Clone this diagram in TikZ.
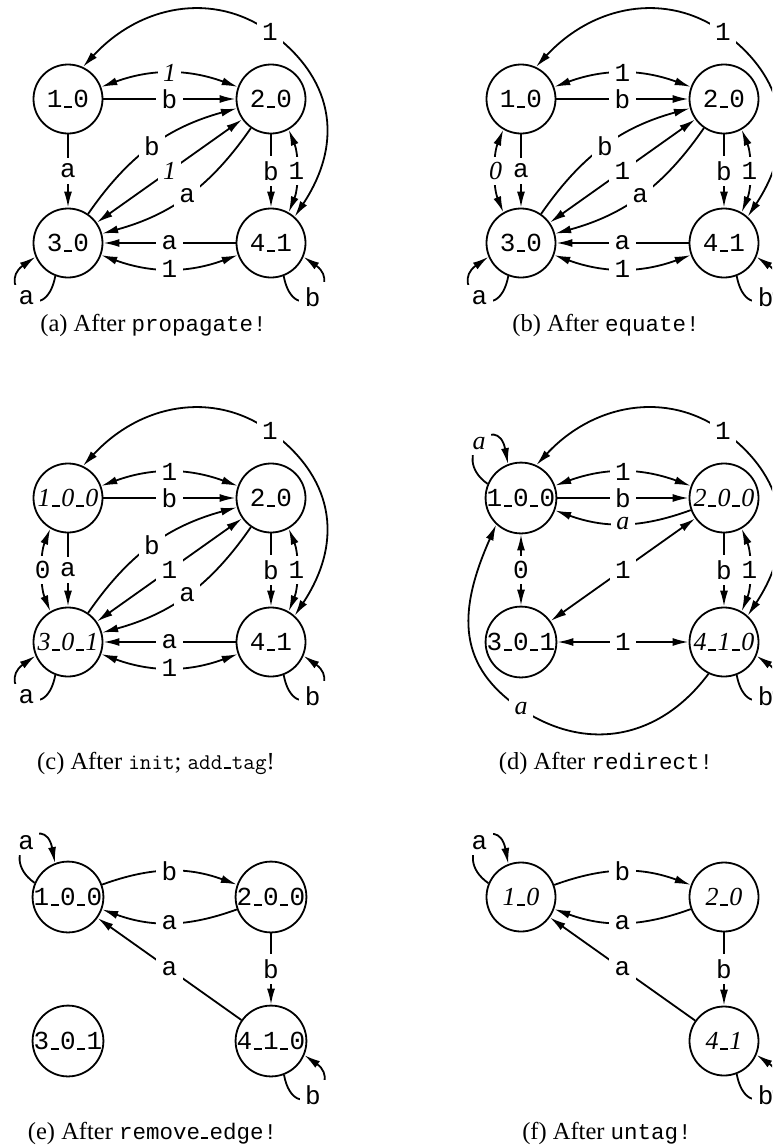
\documentclass[tikz,border=0pt]{standalone}
\usepackage{fontspec}
\setmainfont{Liberation Serif}
\newfontfamily\cour{Liberation Mono}
\newfontfamily\lmtt{Latin Modern Mono}
\usetikzlibrary{arrows.meta}
\newcommand\us{\kern.06em\rule{.3em}{.9pt}\kern.06em}
\newcommand\cf{\cour\fontsize{13}{15}\selectfont}
\newcommand\itf{\fontsize{13}{15}\selectfont\itshape}
\newcommand\capcour{\cour\fontsize{11.25}{13}\selectfont}
\newcommand\captt{\lmtt\fontsize{11.25}{13}\selectfont}
\tikzset{
  st/.style={circle,draw,line width=.9pt,minimum size=34.5pt,inner sep=0pt,font=\cf},
  lbl/.style={fill=white,inner sep=2.7pt,font=\cf},
  tip/.tip={Latex[length=8pt,width=4pt]},
  ed/.style={line width=.9pt,-tip},
  eb/.style={line width=.9pt,tip-tip},
  captxt/.style={font=\fontsize{12.25}{14}\selectfont,inner sep=0pt}
}
\begin{document}
\begin{tikzpicture}[x=0.5pt,y=-0.5pt]
\useasboundingbox (0,0) rectangle (772,1146);
\clip (0,0) rectangle (772,1146);

% ---------- (a)
\begin{scope}[shift={(68,99)}]
\node[st] (a1) at (0,0) {1\us 0};
\node[st] (a2) at (203,0) {2\us 0};
\node[st] (a3) at (0,144) {3\us 0};
\node[st] (a4) at (203,144) {4\us 1};
\draw[eb] (a1.65) .. controls (72,-94) and (145,-108) .. (202,-67) node[lbl]{1}
   .. controls (263,-23) and (278,40) .. (a4.48);
\draw[eb] (a1) to[bend left=20] node[lbl,font=\itf]{1} (a2);
\draw[ed] (a1) -- node[lbl]{b} (a2);
\draw[ed] (a1) -- node[lbl]{a} (a3);
\draw[ed] (a3) to[bend left=20] node[lbl]{b} (a2);
\draw[eb] (a3) -- node[lbl,font=\itf]{1} (a2);
\draw[ed] (a2) to[bend left=20] node[lbl]{a} (a3);
\draw[ed] (a4) -- node[lbl]{a} (a3);
\draw[eb] (a3) to[bend right=20] node[lbl]{1} (a4);
\draw[ed] (a2) -- node[lbl]{b} (a4);
\draw[eb] (a2.-60) .. controls (231,56) and (231,88) .. node[lbl]{1} (a4.60);
\draw[ed] (a3.-111) .. controls (-23,231) and (-73,186) .. node[lbl]{a} (a3.-157);
\draw[ed] (a4.-69) .. controls (226,231) and (276,186) .. node[lbl]{b} (a4.-23);
\end{scope}
\node[captxt] (capa) at (153.5,325) {(a) After {\capcour propagate!}};

% ---------- (b)
\begin{scope}[shift={(521,99)}]
\node[st] (b1) at (0,0) {1\us 0};
\node[st] (b2) at (203,0) {2\us 0};
\node[st] (b3) at (0,144) {3\us 0};
\node[st] (b4) at (203,144) {4\us 1};
\draw[eb] (b1.65) .. controls (72,-94) and (145,-108) .. (202,-67) node[lbl]{1}
   .. controls (263,-23) and (278,40) .. (b4.48);
\draw[eb] (b1) to[bend left=20] node[lbl]{1} (b2);
\draw[ed] (b1) -- node[lbl]{b} (b2);
\draw[ed] (b1) -- node[lbl]{a} (b3);
\draw[eb] (b1.-120) .. controls (-28,56) and (-28,88) .. node[lbl,font=\itf]{0} (b3.120);
\draw[ed] (b3) to[bend left=20] node[lbl]{b} (b2);
\draw[eb] (b3) -- node[lbl]{1} (b2);
\draw[ed] (b2) to[bend left=20] node[lbl]{a} (b3);
\draw[ed] (b4) -- node[lbl]{a} (b3);
\draw[eb] (b3) to[bend right=20] node[lbl]{1} (b4);
\draw[ed] (b2) -- node[lbl]{b} (b4);
\draw[eb] (b2.-60) .. controls (231,56) and (231,88) .. node[lbl]{1} (b4.60);
\draw[ed] (b3.-111) .. controls (-23,231) and (-73,186) .. node[lbl]{a} (b3.-157);
\draw[ed] (b4.-69) .. controls (226,231) and (276,186) .. node[lbl]{b} (b4.-23);
\end{scope}
\node[captxt] (capb) at (606,325) {(b) After {\capcour equate!}};

% ---------- (c)
\begin{scope}[shift={(68,498)}]
\node[st,font=\itf] (c1) at (0,0) {1\us 0\us 0};
\node[st] (c2) at (203,0) {2\us 0};
\node[st,font=\itf] (c3) at (0,144) {3\us 0\us 1};
\node[st] (c4) at (203,144) {4\us 1};
\draw[eb] (c1.65) .. controls (72,-94) and (145,-108) .. (202,-67) node[lbl]{1}
   .. controls (263,-23) and (278,40) .. (c4.48);
\draw[eb] (c1) to[bend left=20] node[lbl]{1} (c2);
\draw[ed] (c1) -- node[lbl]{b} (c2);
\draw[ed] (c1) -- node[lbl]{a} (c3);
\draw[eb] (c1.-120) .. controls (-28,56) and (-28,88) .. node[lbl]{0} (c3.120);
\draw[ed] (c3) to[bend left=20] node[lbl]{b} (c2);
\draw[eb] (c3) -- node[lbl]{1} (c2);
\draw[ed] (c2) to[bend left=20] node[lbl]{a} (c3);
\draw[ed] (c4) -- node[lbl]{a} (c3);
\draw[eb] (c3) to[bend right=20] node[lbl]{1} (c4);
\draw[ed] (c2) -- node[lbl]{b} (c4);
\draw[eb] (c2.-60) .. controls (231,56) and (231,88) .. node[lbl]{1} (c4.60);
\draw[ed] (c3.-111) .. controls (-23,231) and (-73,186) .. node[lbl]{a} (c3.-157);
\draw[ed] (c4.-69) .. controls (226,231) and (276,186) .. node[lbl]{b} (c4.-23);
\end{scope}
\node[captxt] (capc) at (156,763) {(c) After {\captt init}; {\captt add\us tag}!};

% ---------- (d)
\begin{scope}[shift={(521,498)}]
\node[st] (d1) at (0,0) {1\us 0\us 0};
\node[st,font=\itf] (d2) at (203,0) {2\us 0\us 0};
\node[st] (d3) at (0,144) {3\us 0\us 1};
\node[st,font=\itf] (d4) at (203,144) {4\us 1\us 0};
\draw[eb] (d1.65) .. controls (72,-94) and (145,-108) .. (202,-67) node[lbl]{1}
   .. controls (263,-23) and (278,40) .. (d4.48);
\draw[eb] (d1) to[bend left=20] node[lbl]{1} (d2);
\draw[ed] (d1) -- node[lbl]{b} (d2);
\draw[ed] (d2) to[bend left=20] node[lbl,font=\itf]{a} (d1);
\draw[ed] (d1.157) .. controls (-73,-42) and (-23,-87) .. node[lbl,font=\itf]{a} (d1.111);
\draw[eb] (d1) -- node[lbl]{0} (d3);
\draw[eb] (d3) -- node[lbl]{1} (d2);
\draw[ed] (d2) -- node[lbl]{b} (d4);
\draw[eb] (d2.-60) .. controls (231,56) and (231,88) .. node[lbl]{1} (d4.60);
\draw[eb] (d3) -- node[lbl]{1} (d4);
\draw[ed] (d4.-116) .. controls (139,241) and (66,255) .. (0,211) node[lbl,font=\itf]{a}
   .. controls (-62,169) and (-65,117) .. (d1.-133);
\draw[ed] (d4.-69) .. controls (226,231) and (276,186) .. node[lbl]{b} (d4.-23);
\end{scope}
\node[captxt] (capd) at (606,763) {(d) After {\capcour redirect!}};

% ---------- (e)
\begin{scope}[shift={(68,897)}]
\node[st] (e1) at (0,0) {1\us 0\us 0};
\node[st] (e2) at (203,0) {2\us 0\us 0};
\node[st] (e3) at (0,144) {3\us 0\us 1};
\node[st] (e4) at (203,144) {4\us 1\us 0};
\draw[ed] (e1.157) .. controls (-73,-42) and (-23,-87) .. node[lbl]{a} (e1.111);
\draw[ed] (e1) to[bend left=20] node[lbl]{b} (e2);
\draw[ed] (e2) to[bend left=20] node[lbl]{a} (e1);
\draw[ed] (e4) -- node[lbl]{a} (e1);
\draw[ed] (e2) -- node[lbl]{b} (e4);
\draw[ed] (e4.-69) .. controls (226,231) and (276,186) .. node[lbl]{b} (e4.-23);
\end{scope}
\node[captxt] (cape) at (152.5,1133) {(e) After {\capcour remove\us edge!}};

% ---------- (f)
\begin{scope}[shift={(521,897)}]
\node[st,font=\itf] (f1) at (0,0) {1\us 0};
\node[st,font=\itf] (f2) at (203,0) {2\us 0};
\node[st,font=\itf] (f4) at (203,144) {4\us 1};
\draw[ed] (f1.157) .. controls (-73,-42) and (-23,-87) .. node[lbl]{a} (f1.111);
\draw[ed] (f1) to[bend left=20] node[lbl]{b} (f2);
\draw[ed] (f2) to[bend left=20] node[lbl]{a} (f1);
\draw[ed] (f4) -- node[lbl]{a} (f1);
\draw[ed] (f2) -- node[lbl]{b} (f4);
\draw[ed] (f4.-69) .. controls (226,231) and (276,186) .. node[lbl]{b} (f4.-23);
\end{scope}
\node[captxt] (capf) at (607,1133) {(f) After {\capcour untag!}};
\end{tikzpicture}
\end{document}
